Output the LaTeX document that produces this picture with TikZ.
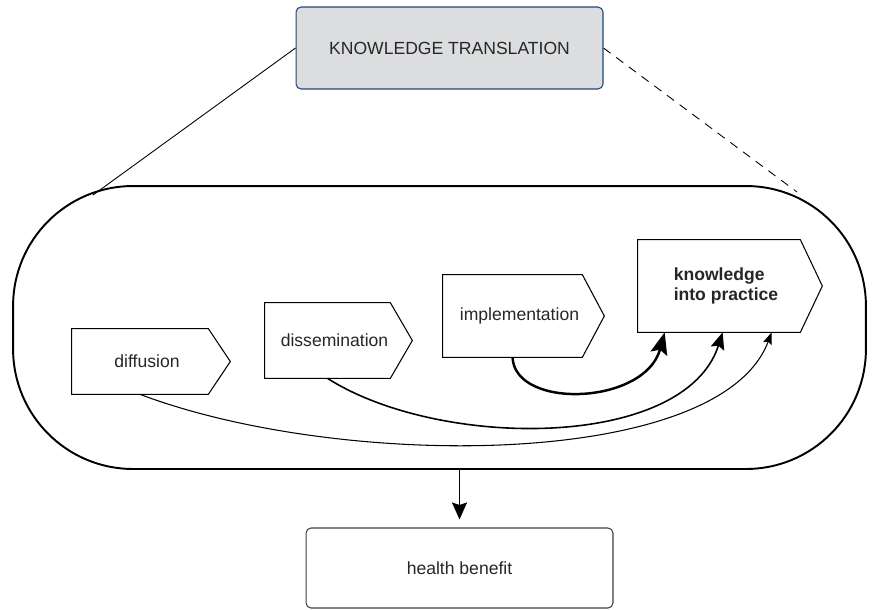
\documentclass[tikz,border=0pt]{standalone}
\usepackage{fontspec}
\setmainfont{Liberation Sans}
\usepackage{tikz}
\usetikzlibrary{arrows.meta, positioning, calc}
\definecolor{ktgray}{HTML}{DCDDDF}
\definecolor{ktblue}{HTML}{1F4676}
\definecolor{hbgray}{HTML}{404040}

\begin{document}
\begin{tikzpicture}[x=0.02cm, y=-0.02cm,
	every node/.style={font=\fontsize{10}{12}\selectfont, text=black!85},
	phase/.style={inner sep=0pt},
	phasetext/.style={xshift=1.4mm, inner sep=0pt},
	outline/.style={line width=0.6pt, line join=miter}]
	\useasboundingbox (0,0) rectangle (875,609);

	% top box and the process area
	\node[draw=ktblue, fill=ktgray, rounded corners=1mm, line width=0.6pt, minimum width=61.4mm, minimum height=16.4mm] (kt) at (449.5,48) {KNOWLEDGE TRANSLATION};
	\node[draw, line width=1.1pt, rounded corners=24mm, minimum width=170.6mm, minimum height=56.6mm] (area) at (439.5,327.5) {};
	\coordinate (tl) at (93,195);
	\coordinate (tr) at (797,192);
	\draw[line width=0.5pt] (kt.west) -- (tl);
	\draw[line width=0.5pt, dash pattern=on 5pt off 4pt] (kt.east) -- (tr);

	% phases
	\node[phase, minimum width=27.2mm, minimum height=13mm, label={[phasetext]center:diffusion}] (dif) at (140,361.5) {};
	\node[phase, minimum width=25mm, minimum height=15mm, label={[phasetext]center:dissemination}] (dis) at (327.5,340.5) {};
	\node[phase, minimum width=27.8mm, minimum height=16.4mm, label={[phasetext]center:implementation}] (imp) at (512.5,316) {};
	\node[phase, minimum width=32.4mm, minimum height=18.4mm, label={[phasetext, align=left, font=\fontsize{10}{11.4}\selectfont\bfseries]center:knowledge\\into practice}] (kip) at (719,286) {};
	\foreach \n in {dif,dis,imp,kip}
		\draw[outline] (\n.north west) -- (\n.north east) -- ([xshift=4.4mm]\n.east) -- (\n.south east) -- (\n.south west) -- cycle;

	\coordinate (k1) at ([xshift=5.4mm]kip.south west);
	\coordinate (k2) at ([xshift=17mm]kip.south west);
	\coordinate (k3) at ([xshift=26.8mm]kip.south west);
	\draw[line width=1.4pt, -{Stealth[length=4.4mm,width=3.4mm,inset=0.8mm]}] (imp.south) .. controls (515,410) and (645,405) .. (k1);
	\draw[line width=0.9pt, -{Stealth[length=3.4mm,width=2.8mm,inset=0.6mm]}] (dis.south) .. controls (440,450) and (685,450) .. (k2);
	\draw[line width=0.6pt, -{Stealth[length=2.4mm,width=1.8mm,inset=0.4mm]}] (dif.south) .. controls (340,470) and (720,470) .. (k3);

	% result
	\node[draw=hbgray, rounded corners=1mm, line width=0.6pt, minimum width=61.4mm, minimum height=16mm] (hb) at (459.5,568) {health benefit};
	\draw[line width=0.9pt, -{Stealth[length=3.4mm,width=3mm,inset=0.5mm]}, shorten >=1.6mm] (area.south -| hb.north) -- (hb.north);
\end{tikzpicture}
\end{document}
